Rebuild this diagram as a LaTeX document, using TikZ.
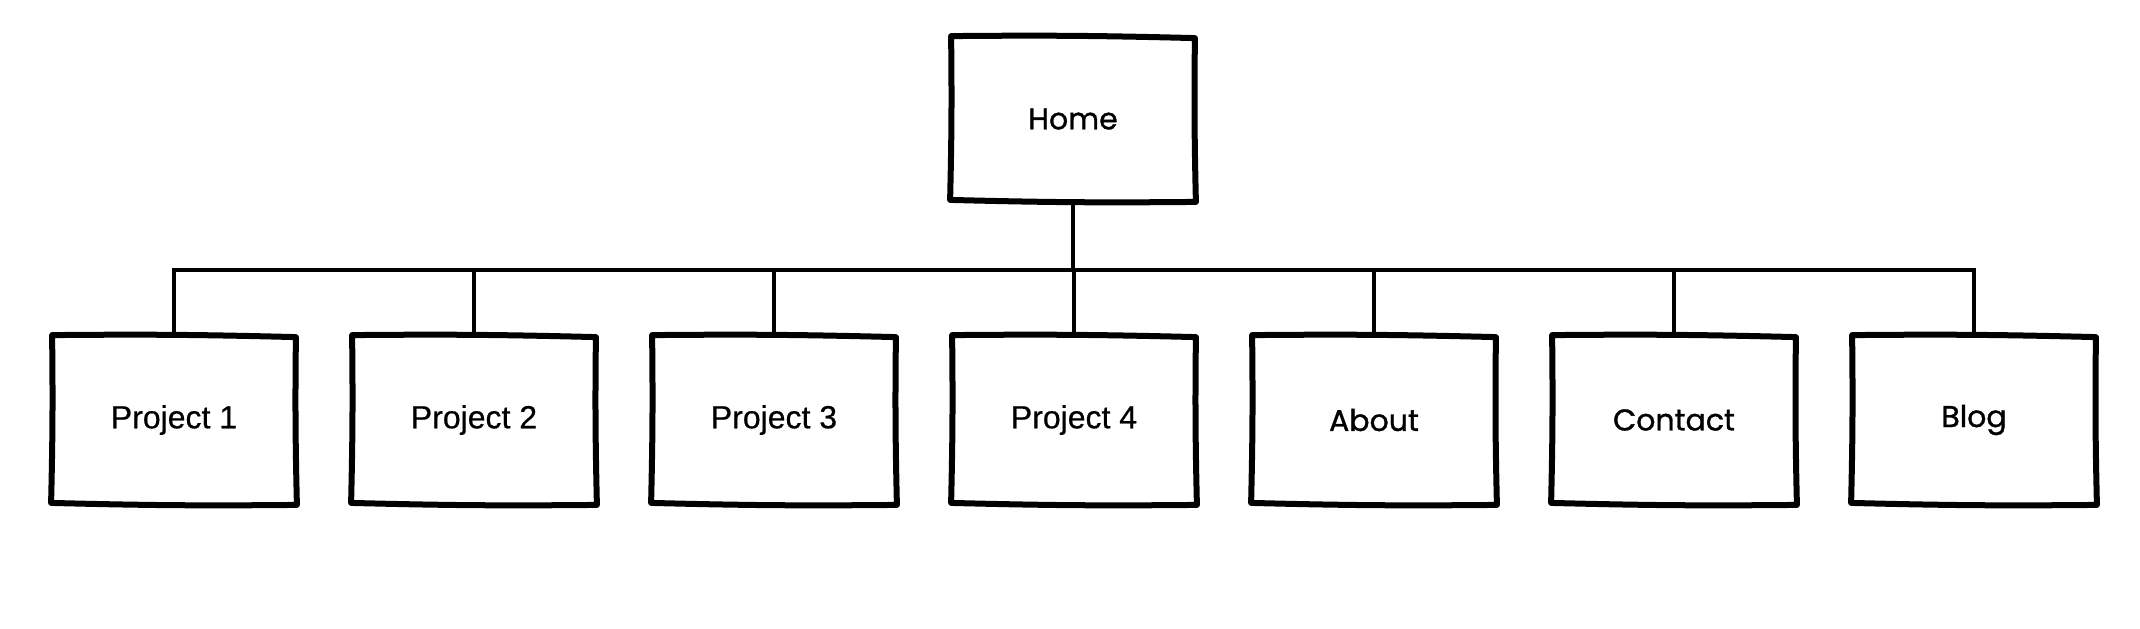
\documentclass[tikz,border=0pt]{standalone}
\usepackage{fontspec}
\setmainfont{Liberation Sans}[FakeBold=0.5]
\newfontfamily\roundfont{Poppins}[FakeBold=1.1]
\begin{document}
\begin{tikzpicture}[x=0.5pt,y=-0.5pt,
  box/.style={draw=none, minimum width=120.5pt, minimum height=83.5pt,
    inner sep=0pt, font=\fontsize{16}{19}\selectfont},
  rbox/.style={box, font=\roundfont\fontsize{15}{18}\selectfont},
  outline/.style={draw=black, line width=3pt, line join=round, line cap=round},
  link/.style={line width=1.8pt, draw=black}]
\useasboundingbox (0,0) rectangle (2140,628);
\node[rbox, minimum height=81.5pt] (home) at (1073,119) {Home};
\node[box] (p1) at (174,420) {Project 1};
\node[box] (p2) at (474,420) {Project 2};
\node[box] (p3) at (774,420) {Project 3};
\node[box] (p4) at (1074,420) {Project 4};
\node[rbox] (about) at (1374,420) {About};
\node[rbox] (contact) at (1674,420) {Contact};
\node[rbox] (blog) at (1974,420) {Blog};
\coordinate (bus) at (0,270);
\draw[link] (p1.north) -- (p1.north |- bus) -- (blog.north |- bus) -- (blog.north);
\foreach \n in {p2,p3,p4,about,contact}
  \draw[link] (\n.north) -- (\n.north |- bus);
\draw[link] (home.south) -- (home.south |- bus);
\foreach \n in {home,p1,p2,p3,p4,about,contact,blog}
  \draw[outline] ([shift={(-1,-1)}]\n.north west)
    to[bend left=1] ([shift={(1,1)}]\n.north east)
    to[bend right=1] ([shift={(2,1)}]\n.south east)
    to[bend left=1] ([shift={(-2,-1)}]\n.south west)
    to[bend right=1] cycle;
\end{tikzpicture}
\end{document}
